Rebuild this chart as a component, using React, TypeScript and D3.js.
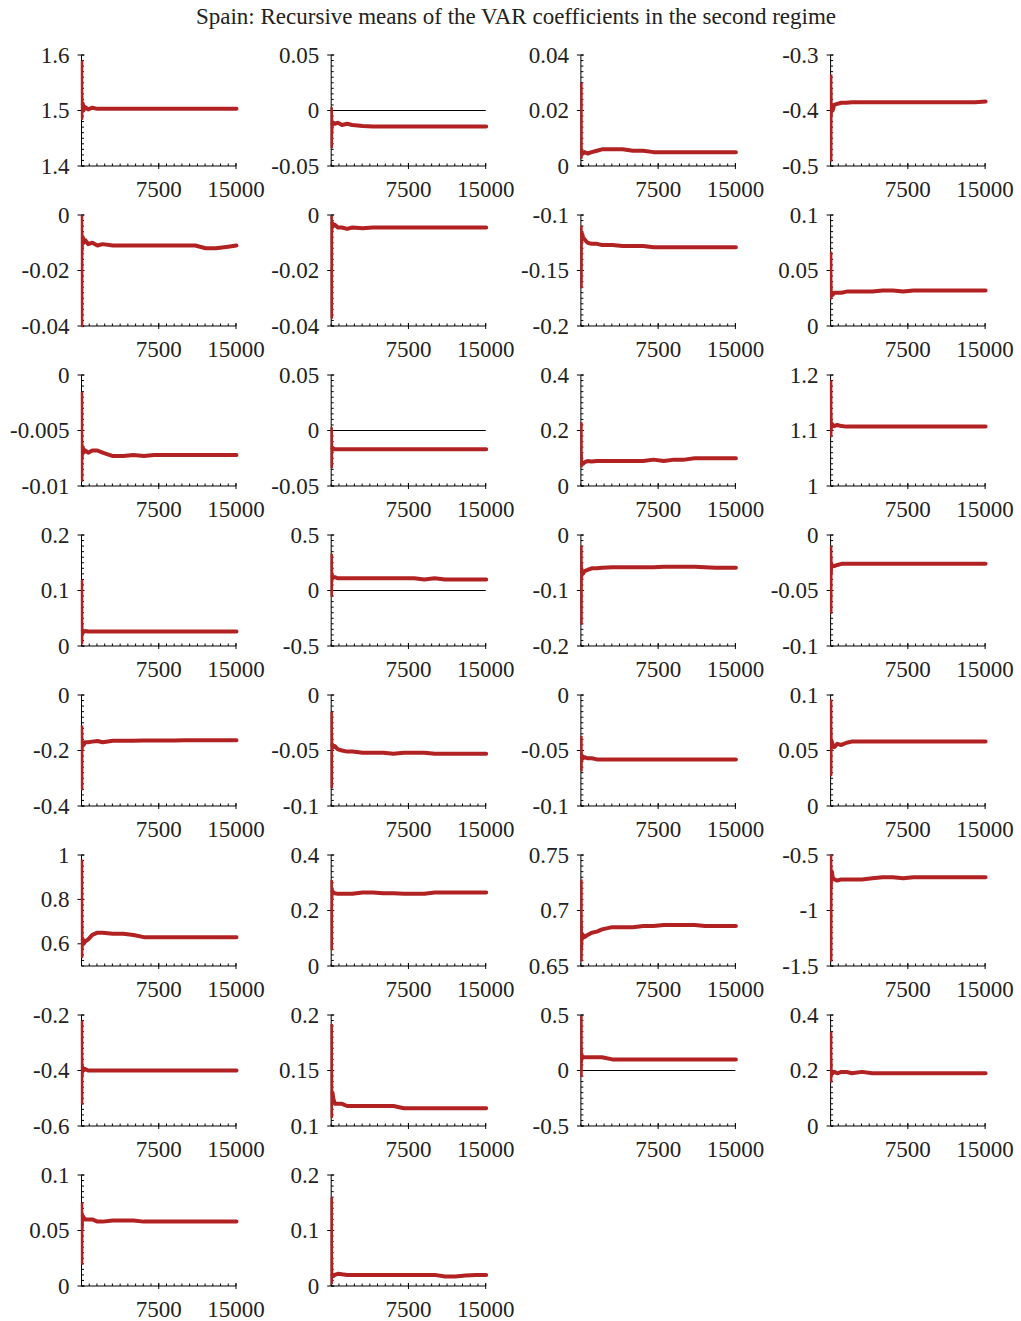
import React from "react";
import * as d3 from "d3";

const TITLE = "Spain: Recursive means of the VAR coefficients in the second regime";

// draw index (x) at which each recursive mean is read
const X_STEPS = [1, 10, 20, 40, 80, 150, 300, 600, 1000, 1500, 2000, 3000, 4000, 5000, 6000, 7000, 8000, 9000, 10000, 11000, 12000, 13000, 14000, 15000];
const X_DOMAIN = [0, 15000];
const X_TICKS = [7500, 15000];
const X_TICK_LABELS = ["7500", "15000"];

const Y_DOMAINS: number[][] = [
  [1.4, 1.6], [-0.05, 0.05], [0, 0.04], [-0.5, -0.3],
  [-0.04, 0], [-0.04, 0], [-0.2, -0.1], [0, 0.1],
  [-0.01, 0], [-0.05, 0.05], [0, 0.4], [1, 1.2],
  [0, 0.2], [-0.5, 0.5], [-0.2, 0], [-0.1, 0],
  [-0.4, 0], [-0.1, 0], [-0.1, 0], [0, 0.1],
  [0.5, 1], [0, 0.4], [0.65, 0.75], [-1.5, -0.5],
  [-0.6, -0.2], [0.1, 0.2], [-0.5, 0.5], [0, 0.4],
  [0, 0.1], [0, 0.2],
];

const Y_TICK_LABELS: string[][] = [
  ["1.4", "1.5", "1.6"], ["-0.05", "0", "0.05"], ["0", "0.02", "0.04"], ["-0.5", "-0.4", "-0.3"],
  ["-0.04", "-0.02", "0"], ["-0.04", "-0.02", "0"], ["-0.2", "-0.15", "-0.1"], ["0", "0.05", "0.1"],
  ["-0.01", "-0.005", "0"], ["-0.05", "0", "0.05"], ["0", "0.2", "0.4"], ["1", "1.1", "1.2"],
  ["0", "0.1", "0.2"], ["-0.5", "0", "0.5"], ["-0.2", "-0.1", "0"], ["-0.1", "-0.05", "0"],
  ["-0.4", "-0.2", "0"], ["-0.1", "-0.05", "0"], ["-0.1", "-0.05", "0"], ["0", "0.05", "0.1"],
  ["0.6", "0.8", "1"], ["0", "0.2", "0.4"], ["0.65", "0.7", "0.75"], ["-1.5", "-1", "-0.5"],
  ["-0.6", "-0.4", "-0.2"], ["0.1", "0.15", "0.2"], ["-0.5", "0", "0.5"], ["0", "0.2", "0.4"],
  ["0", "0.05", "0.1"], ["0", "0.1", "0.2"],
];

const P01 = [1.59, 1.485, 1.53, 1.497, 1.512, 1.5, 1.506, 1.502, 1.505, 1.503, 1.503, 1.503, 1.503, 1.503, 1.503, 1.503, 1.503, 1.503, 1.503, 1.503, 1.503, 1.503, 1.503, 1.503];
const P02 = [0.003, -0.033, -0.005, -0.02, -0.012, -0.011, -0.012, -0.011, -0.013, -0.012, -0.013, -0.014, -0.0145, -0.0145, -0.0145, -0.0145, -0.0145, -0.0145, -0.0145, -0.0145, -0.0145, -0.0145, -0.0145, -0.0145];
const P03 = [0.03, 0.003, 0.006, 0.004, 0.005, 0.0045, 0.005, 0.0045, 0.005, 0.0055, 0.006, 0.006, 0.006, 0.0055, 0.0055, 0.005, 0.005, 0.005, 0.005, 0.005, 0.005, 0.005, 0.005, 0.005];
const P04 = [-0.335, -0.49, -0.36, -0.41, -0.39, -0.4, -0.39, -0.388, -0.386, -0.386, -0.385, -0.385, -0.385, -0.385, -0.385, -0.385, -0.385, -0.385, -0.385, -0.385, -0.385, -0.385, -0.385, -0.384];
const P05 = [-0.0002, -0.04, -0.006, -0.013, -0.008, -0.01, -0.009, -0.0105, -0.01, -0.011, -0.0105, -0.011, -0.011, -0.011, -0.011, -0.011, -0.011, -0.011, -0.011, -0.011, -0.012, -0.012, -0.0115, -0.011];
const P06 = [-0.0003, -0.037, -0.002, -0.006, -0.003, -0.004, -0.0035, -0.0045, -0.0045, -0.005, -0.0045, -0.0048, -0.0045, -0.0045, -0.0045, -0.0045, -0.0045, -0.0045, -0.0045, -0.0045, -0.0045, -0.0045, -0.0045, -0.0045];
const P07 = [-0.11, -0.165, -0.115, -0.125, -0.117, -0.12, -0.122, -0.125, -0.126, -0.126, -0.127, -0.127, -0.128, -0.128, -0.128, -0.129, -0.129, -0.129, -0.129, -0.129, -0.129, -0.129, -0.129, -0.129];
const P08 = [0.067, 0.025, 0.04, 0.027, 0.03, 0.028, 0.03, 0.03, 0.03, 0.031, 0.031, 0.031, 0.031, 0.032, 0.032, 0.031, 0.032, 0.032, 0.032, 0.032, 0.032, 0.032, 0.032, 0.032];
const P09 = [-0.0015, -0.0095, -0.006, -0.0075, -0.0065, -0.007, -0.0068, -0.007, -0.0068, -0.0068, -0.007, -0.0073, -0.0073, -0.0072, -0.0073, -0.0072, -0.0072, -0.0072, -0.0072, -0.0072, -0.0072, -0.0072, -0.0072, -0.0072];
const P10 = [0.003, -0.033, -0.01, -0.02, -0.016, -0.016, -0.017, -0.017, -0.017, -0.017, -0.017, -0.017, -0.017, -0.017, -0.017, -0.017, -0.017, -0.017, -0.017, -0.017, -0.017, -0.017, -0.017, -0.017];
const P11 = [0.23, 0.07, 0.12, 0.075, 0.085, 0.08, 0.085, 0.09, 0.088, 0.09, 0.09, 0.09, 0.09, 0.09, 0.09, 0.095, 0.09, 0.095, 0.095, 0.1, 0.1, 0.1, 0.1, 0.1];
const P12 = [1.19, 1.09, 1.13, 1.1, 1.112, 1.11, 1.108, 1.11, 1.108, 1.107, 1.107, 1.107, 1.107, 1.107, 1.107, 1.107, 1.107, 1.107, 1.107, 1.107, 1.107, 1.107, 1.107, 1.107];
const P13 = [0.12, 0.005, 0.04, 0.02, 0.027, 0.025, 0.027, 0.026, 0.026, 0.026, 0.026, 0.026, 0.026, 0.026, 0.026, 0.026, 0.026, 0.026, 0.026, 0.026, 0.026, 0.026, 0.026, 0.026];
const P14 = [0.33, -0.05, 0.2, 0.08, 0.13, 0.12, 0.12, 0.11, 0.11, 0.11, 0.11, 0.11, 0.11, 0.11, 0.11, 0.11, 0.11, 0.1, 0.11, 0.1, 0.1, 0.1, 0.1, 0.1];
const P15 = [-0.02, -0.16, -0.05, -0.08, -0.065, -0.07, -0.065, -0.063, -0.06, -0.06, -0.059, -0.058, -0.058, -0.058, -0.058, -0.058, -0.057, -0.057, -0.057, -0.057, -0.058, -0.059, -0.059, -0.059];
const P16 = [-0.01, -0.07, -0.02, -0.035, -0.027, -0.028, -0.028, -0.027, -0.026, -0.026, -0.026, -0.026, -0.026, -0.026, -0.026, -0.026, -0.026, -0.026, -0.026, -0.026, -0.026, -0.026, -0.026, -0.026];
const P17 = [-0.11, -0.34, -0.15, -0.2, -0.17, -0.18, -0.17, -0.17, -0.168, -0.166, -0.17, -0.165, -0.165, -0.165, -0.164, -0.164, -0.164, -0.164, -0.163, -0.163, -0.163, -0.163, -0.163, -0.163];
const P18 = [-0.015, -0.083, -0.035, -0.05, -0.045, -0.047, -0.046, -0.049, -0.05, -0.051, -0.051, -0.052, -0.052, -0.052, -0.053, -0.052, -0.052, -0.052, -0.053, -0.053, -0.053, -0.053, -0.053, -0.053];
const P19 = [-0.037, -0.068, -0.05, -0.06, -0.055, -0.057, -0.056, -0.057, -0.057, -0.058, -0.058, -0.058, -0.058, -0.058, -0.058, -0.058, -0.058, -0.058, -0.058, -0.058, -0.058, -0.058, -0.058, -0.058];
const P20 = [0.096, 0.028, 0.07, 0.05, 0.058, 0.055, 0.053, 0.056, 0.055, 0.057, 0.058, 0.058, 0.058, 0.058, 0.058, 0.058, 0.058, 0.058, 0.058, 0.058, 0.058, 0.058, 0.058, 0.058];
const P21 = [0.98, 0.54, 0.7, 0.58, 0.62, 0.6, 0.61, 0.62, 0.64, 0.65, 0.65, 0.645, 0.645, 0.64, 0.63, 0.63, 0.63, 0.63, 0.63, 0.63, 0.63, 0.63, 0.63, 0.63];
const P22 = [0.31, 0.06, 0.28, 0.24, 0.27, 0.265, 0.262, 0.26, 0.26, 0.26, 0.26, 0.265, 0.265, 0.262, 0.262, 0.26, 0.26, 0.26, 0.265, 0.265, 0.265, 0.265, 0.265, 0.265];
const P23 = [0.728, 0.655, 0.69, 0.665, 0.675, 0.678, 0.676, 0.678, 0.68, 0.681, 0.683, 0.685, 0.685, 0.685, 0.686, 0.686, 0.687, 0.687, 0.687, 0.687, 0.686, 0.686, 0.686, 0.686];
const P24 = [-0.5, -1.45, -0.6, -0.8, -0.65, -0.7, -0.72, -0.73, -0.72, -0.72, -0.72, -0.72, -0.71, -0.7, -0.7, -0.71, -0.7, -0.7, -0.7, -0.7, -0.7, -0.7, -0.7, -0.7];
const P25 = [-0.22, -0.52, -0.35, -0.42, -0.39, -0.4, -0.395, -0.4, -0.4, -0.4, -0.4, -0.4, -0.4, -0.4, -0.4, -0.4, -0.4, -0.4, -0.4, -0.4, -0.4, -0.4, -0.4, -0.4];
const P26 = [0.192, 0.108, 0.15, 0.12, 0.13, 0.125, 0.12, 0.12, 0.12, 0.118, 0.118, 0.118, 0.118, 0.118, 0.118, 0.116, 0.116, 0.116, 0.116, 0.116, 0.116, 0.116, 0.116, 0.116];
const P27 = [0.49, -0.05, 0.2, 0.08, 0.13, 0.12, 0.12, 0.12, 0.12, 0.12, 0.12, 0.1, 0.1, 0.1, 0.1, 0.1, 0.1, 0.1, 0.1, 0.1, 0.1, 0.1, 0.1, 0.1];
const P28 = [0.34, 0.16, 0.24, 0.18, 0.19, 0.19, 0.195, 0.19, 0.195, 0.195, 0.19, 0.195, 0.19, 0.19, 0.19, 0.19, 0.19, 0.19, 0.19, 0.19, 0.19, 0.19, 0.19, 0.19];
const P29 = [0.075, 0.02, 0.06, 0.05, 0.063, 0.062, 0.06, 0.06, 0.06, 0.058, 0.058, 0.059, 0.059, 0.059, 0.058, 0.058, 0.058, 0.058, 0.058, 0.058, 0.058, 0.058, 0.058, 0.058];
const P30 = [0.16, 0.005, 0.05, 0.015, 0.02, 0.018, 0.02, 0.022, 0.021, 0.02, 0.02, 0.02, 0.02, 0.02, 0.02, 0.02, 0.02, 0.02, 0.02, 0.017, 0.017, 0.019, 0.02, 0.02];

const SERIES = [P01, P02, P03, P04, P05, P06, P07, P08, P09, P10, P11, P12, P13, P14, P15, P16, P17, P18, P19, P20, P21, P22, P23, P24, P25, P26, P27, P28, P29, P30];

const FONT = "'Liberation Serif', 'DejaVu Serif', serif";
const RED = "#b22222";
const NCOL = 4;
const PW = 154.5;
const PH = 111;
const COL_X0 = 81.5;
const COL_DX = 249.7;
const ROW_Y0 = 55;
const ROW_DY = 160;
const SPIKE_END = 4;
const TICK_FS = 23;

function Panel({ idx }: { idx: number }) {
  const r = Math.floor(idx / NCOL);
  const c = idx % NCOL;
  const x0 = COL_X0 + c * COL_DX;
  const y0 = ROW_Y0 + r * ROW_DY;
  const dom = Y_DOMAINS[idx];
  const xs = d3.scaleLinear().domain(X_DOMAIN).range([0, PW]);
  const ys = d3.scaleLinear().domain(dom).range([PH, 0]);
  const vals = SERIES[idx];
  const pts: [number, number][] = X_STEPS.map((x, i) => [x, vals[i]]);
  const line = d3.line<[number, number]>().x((d) => xs(d[0]) + 0.5).y((d) => ys(d[1]));
  const spike = line(pts.slice(0, SPIKE_END + 1)) || "";
  const main = line(pts.slice(SPIKE_END)) || "";
  const xMinor = d3.range(0, 15001, 750);
  const yMinor = d3.range(0, 21).map((k) => dom[0] + ((dom[1] - dom[0]) * k) / 20);
  const showZero = dom[0] < 0 && dom[1] > 0;
  return (
    <g transform={`translate(${x0},${y0})`}>
      {showZero && <line x1={0} x2={PW} y1={ys(0)} y2={ys(0)} stroke="#000" strokeWidth={1} />}
      <line x1={0} x2={0} y1={0} y2={PH} stroke="#000" strokeWidth={1} />
      <line x1={0} x2={PW} y1={PH} y2={PH} stroke="#000" strokeWidth={1} />
      {xMinor.map((v) => (
        <line key={"xm" + v} x1={xs(v)} x2={xs(v)} y1={PH} y2={PH - 2.5} stroke="#000" strokeWidth={1} />
      ))}
      {yMinor.map((v, k) => (
        <line key={"ym" + k} x1={0} x2={2.5} y1={ys(v)} y2={ys(v)} stroke="#000" strokeWidth={1} />
      ))}
      {X_TICKS.map((v, k) => (
        <g key={"xt" + v}>
          <line x1={xs(v)} x2={xs(v)} y1={PH - 3} y2={PH + 3} stroke="#000" strokeWidth={1} />
          <text x={xs(v)} y={PH + 31} textAnchor="middle" fontFamily={FONT} fontSize={TICK_FS} fill="#222">
            {X_TICK_LABELS[k]}
          </text>
        </g>
      ))}
      {Y_TICK_LABELS[idx].map((lab) => {
        const v = parseFloat(lab);
        return (
          <g key={"yt" + lab}>
            <line x1={-4} x2={3} y1={ys(v)} y2={ys(v)} stroke="#000" strokeWidth={1} />
            <text x={-12} y={ys(v)} dy="0.33em" textAnchor="end" fontFamily={FONT} fontSize={TICK_FS} fill="#222">
              {lab}
            </text>
          </g>
        );
      })}
      <path d={spike} fill="none" stroke={RED} strokeWidth={2.5} strokeLinejoin="round" />
      <path d={main} fill="none" stroke={RED} strokeWidth={4} strokeLinejoin="round" strokeLinecap="round" />
    </g>
  );
}

export default function App() {
  return (
    <svg width={1021} height={1321} style={{ position: "absolute", left: 0, top: 0, background: "#fff" }}>
      <rect x={0} y={0} width={1021} height={1321} fill="#fff" />
      <text x={516} y={24} textAnchor="middle" fontFamily={FONT} fontSize={23} fill="#222">
        {TITLE}
      </text>
      {SERIES.map((_, i) => (
        <Panel key={i} idx={i} />
      ))}
    </svg>
  );
}
